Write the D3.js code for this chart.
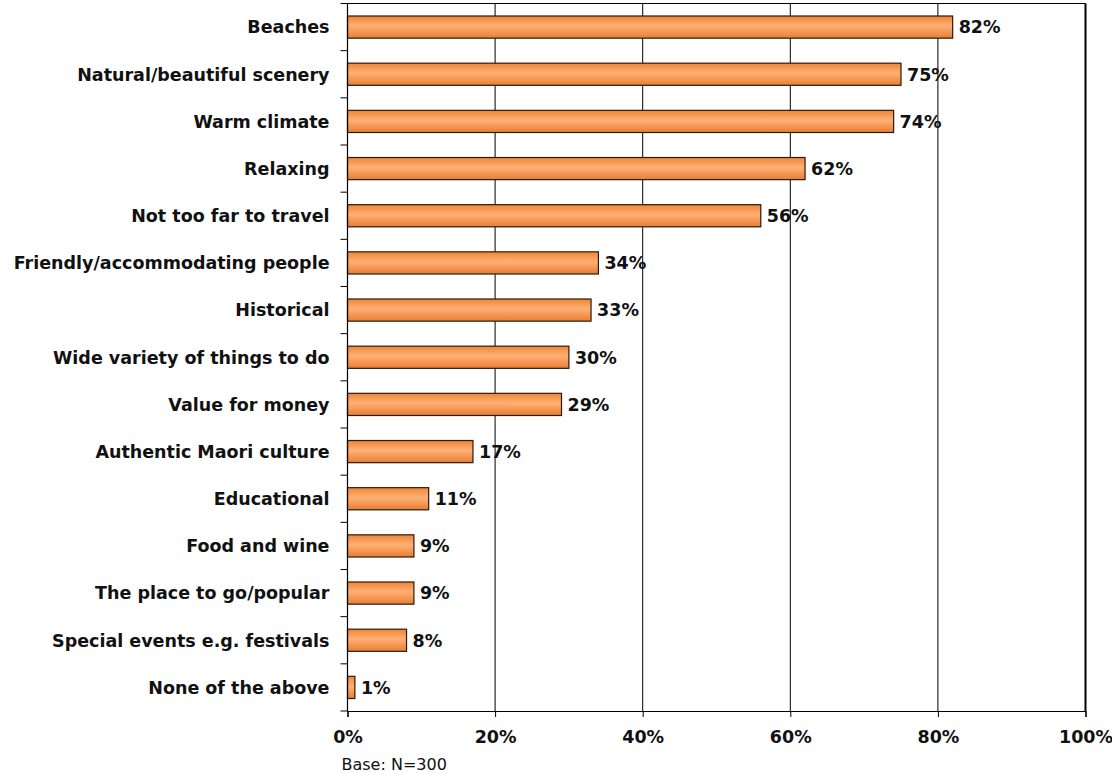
<!DOCTYPE html>
<html>
<head>
<meta charset="utf-8">
<script src="https://cdn.jsdelivr.net/npm/d3@7"></script>
<style>
  html, body { margin: 0; padding: 0; background: #fff; }
  svg { display: block; }
  text { font-family: "DejaVu Sans", Verdana, sans-serif; fill: #111; }
</style>
</head>
<body>
<svg id="chart" width="1112" height="774"></svg>
<script>
// Reasons for choosing the destination (share of respondents)
const categories = [
  "Beaches",
  "Natural/beautiful scenery",
  "Warm climate",
  "Relaxing",
  "Not too far to travel",
  "Friendly/accommodating people",
  "Historical",
  "Wide variety of things to do",
  "Value for money",
  "Authentic Maori culture",
  "Educational",
  "Food and wine",
  "The place to go/popular",
  "Special events e.g. festivals",
  "None of the above"
];
const values = [82, 75, 74, 62, 56, 34, 33, 30, 29, 17, 11, 9, 9, 8, 1];
const xTicks = [0, 20, 40, 60, 80, 100];
const baseNote = "Base: N=300";

const svg = d3.select("#chart");
const margin = { left: 347.5, right: 26.5, top: 3.5, bottom: 63 };
const W = 1112, H = 774;
const labelSize = 17.5;
const x = d3.scaleLinear().domain([0, 100]).range([margin.left, W - margin.right]);
const y = d3.scaleBand().domain(categories).range([margin.top, H - margin.bottom]).paddingInner(0.53).paddingOuter(0.265);
const band = d3.scaleBand().domain(categories).range([margin.top, H - margin.bottom]);

// Bar gradient
const defs = svg.append("defs");
const grad = defs.append("linearGradient").attr("id", "barGrad")
  .attr("x1", 0).attr("y1", 0).attr("x2", 0).attr("y2", 1);
grad.append("stop").attr("offset", "0%").attr("stop-color", "#EE8636");
grad.append("stop").attr("offset", "45%").attr("stop-color", "#FFB075");
grad.append("stop").attr("offset", "100%").attr("stop-color", "#E97D32");

// Plot frame and vertical gridlines
const plotTop = margin.top, plotBottom = H - margin.bottom;
svg.append("g").selectAll("line").data(xTicks.filter(d => d > 0)).join("line")
  .attr("x1", d => x(d)).attr("x2", d => x(d))
  .attr("y1", plotTop).attr("y2", plotBottom)
  .attr("stroke", "#000").attr("stroke-width", 1);
svg.append("line").attr("x1", x(0)).attr("x2", x(100)).attr("y1", plotTop).attr("y2", plotTop)
  .attr("stroke", "#000").attr("stroke-width", 1);
svg.append("line").attr("x1", x(100)).attr("x2", x(100)).attr("y1", plotTop).attr("y2", plotBottom)
  .attr("stroke", "#000").attr("stroke-width", 2);

// Bars
svg.append("g").selectAll("rect").data(values).join("rect")
  .attr("x", x(0))
  .attr("y", (d, i) => y(categories[i]))
  .attr("width", d => x(d) - x(0))
  .attr("height", y.bandwidth())
  .attr("fill", "url(#barGrad)")
  .attr("stroke", "#2a1a10").attr("stroke-width", 1.2);

// Value labels
svg.append("g").selectAll("text").data(values).join("text")
  .attr("x", d => x(d) + 6)
  .attr("y", (d, i) => band(categories[i]) + band.bandwidth() / 2)
  .attr("dy", "0.36em")
  .attr("font-size", labelSize).attr("font-weight", "bold")
  .text(d => d + "%");

// Category axis (ticks at band boundaries)
const yAxisG = svg.append("g");
const boundaries = categories.map(c => band(c)).concat([plotBottom]);
yAxisG.append("line").attr("x1", x(0)).attr("x2", x(0)).attr("y1", plotTop).attr("y2", plotBottom)
  .attr("stroke", "#000").attr("stroke-width", 1.2);
yAxisG.selectAll("line.tick").data(boundaries).join("line").attr("class", "tick")
  .attr("x1", x(0) - 7).attr("x2", x(0))
  .attr("y1", d => d).attr("y2", d => d)
  .attr("stroke", "#000").attr("stroke-width", 1);
yAxisG.selectAll("text").data(categories).join("text")
  .attr("x", x(0) - 18)
  .attr("y", d => band(d) + band.bandwidth() / 2)
  .attr("dy", "0.36em")
  .attr("text-anchor", "end")
  .attr("font-size", labelSize).attr("font-weight", "bold")
  .text(d => d);

// Value axis
const xAxis = d3.axisBottom(x).tickValues(xTicks).tickFormat(d => d + "%").tickSize(6).tickPadding(14);
const xAxisG = svg.append("g").attr("transform", `translate(0,${plotBottom})`).call(xAxis);
xAxisG.select(".domain").attr("stroke", "#000").attr("stroke-width", 1.2);
xAxisG.selectAll(".tick line").attr("stroke", "#000");
xAxisG.selectAll(".tick text")
  .attr("font-family", "DejaVu Sans, Verdana, sans-serif")
  .attr("font-size", labelSize).attr("font-weight", "bold").attr("fill", "#111");

// Sample size note
svg.append("text")
  .attr("x", x(0) - 6).attr("y", 770)
  .attr("font-size", 16).attr("fill", "#333")
  .text(baseNote);
</script>
</body>
</html>
